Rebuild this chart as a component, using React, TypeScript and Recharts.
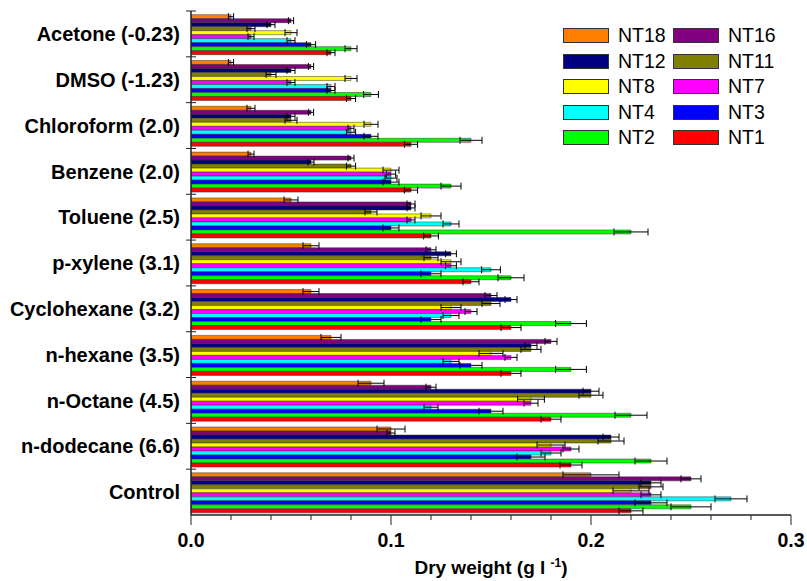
import { BarChart, Bar, XAxis, YAxis, ErrorBar } from 'recharts';

const categories = [
  'Acetone (-0.23)',
  'DMSO (-1.23)',
  'Chloroform (2.0)',
  'Benzene (2.0)',
  'Toluene (2.5)',
  'p-xylene (3.1)',
  'Cyclohexane (3.2)',
  'n-hexane (3.5)',
  'n-Octane (4.5)',
  'n-dodecane (6.6)',
  'Control',
];

const nt18 = [0.02, 0.02, 0.03, 0.03, 0.05, 0.06, 0.06, 0.07, 0.09, 0.1, 0.2];
const nt18Err = [0.0013, 0.0013, 0.002, 0.0015, 0.0035, 0.004, 0.004, 0.005, 0.0065, 0.007, 0.014];
const nt16 = [0.05, 0.06, 0.06, 0.08, 0.11, 0.12, 0.15, 0.18, 0.12, 0.1, 0.25];
const nt16Err = [0.0013, 0.0013, 0.0013, 0.0015, 0.002, 0.0025, 0.003, 0.003, 0.0025, 0.002, 0.005];
const nt12 = [0.04, 0.05, 0.05, 0.06, 0.11, 0.13, 0.16, 0.17, 0.2, 0.21, 0.23];
const nt12Err = [0.002, 0.002, 0.002, 0.0015, 0.002, 0.0027, 0.003, 0.003, 0.004, 0.004, 0.005];
const nt11 = [0.03, 0.04, 0.05, 0.08, 0.09, 0.12, 0.15, 0.17, 0.2, 0.21, 0.23];
const nt11Err = [0.002, 0.0025, 0.003, 0.0023, 0.003, 0.0035, 0.0045, 0.005, 0.006, 0.0065, 0.006];
const nt8 = [0.05, 0.08, 0.09, 0.1, 0.12, 0.13, 0.13, 0.15, 0.17, 0.18, 0.22];
const nt8Err = [0.003, 0.003, 0.0035, 0.004, 0.005, 0.005, 0.005, 0.006, 0.0067, 0.007, 0.009];
const nt7 = [0.03, 0.05, 0.08, 0.1, 0.11, 0.13, 0.14, 0.16, 0.17, 0.19, 0.23];
const nt7Err = [0.0015, 0.002, 0.0015, 0.0023, 0.002, 0.0027, 0.003, 0.003, 0.0035, 0.004, 0.005];
const nt4 = [0.05, 0.07, 0.08, 0.1, 0.13, 0.15, 0.13, 0.13, 0.12, 0.18, 0.27];
const nt4Err = [0.002, 0.002, 0.0023, 0.003, 0.004, 0.0047, 0.004, 0.004, 0.0035, 0.005, 0.008];
const nt3 = [0.06, 0.07, 0.09, 0.1, 0.1, 0.12, 0.12, 0.14, 0.15, 0.17, 0.23];
const nt3Err = [0.0023, 0.002, 0.0035, 0.004, 0.004, 0.005, 0.005, 0.0055, 0.006, 0.007, 0.008];
const nt2 = [0.08, 0.09, 0.14, 0.13, 0.22, 0.16, 0.19, 0.19, 0.22, 0.23, 0.25];
const nt2Err = [0.003, 0.0037, 0.0055, 0.005, 0.0085, 0.0065, 0.0077, 0.0077, 0.008, 0.008, 0.01];
const nt1 = [0.07, 0.08, 0.11, 0.11, 0.12, 0.14, 0.16, 0.16, 0.18, 0.19, 0.22];
const nt1Err = [0.002, 0.0023, 0.0033, 0.0033, 0.0037, 0.004, 0.005, 0.005, 0.005, 0.0055, 0.006];

const xTicks = [0, 0.02, 0.04, 0.06, 0.08, 0.1, 0.12, 0.14, 0.16, 0.18, 0.2, 0.22, 0.24, 0.26, 0.28, 0.3];
const xLabels = ['0.0', '0.1', '0.2', '0.3'];

const series = [
  { key: 'NT18', color: '#FF8000', values: nt18, errors: nt18Err },
  { key: 'NT16', color: '#800080', values: nt16, errors: nt16Err },
  { key: 'NT12', color: '#000080', values: nt12, errors: nt12Err },
  { key: 'NT11', color: '#808000', values: nt11, errors: nt11Err },
  { key: 'NT8', color: '#FFFF00', values: nt8, errors: nt8Err },
  { key: 'NT7', color: '#FF00FF', values: nt7, errors: nt7Err },
  { key: 'NT4', color: '#00FFFF', values: nt4, errors: nt4Err },
  { key: 'NT3', color: '#0000FF', values: nt3, errors: nt3Err },
  { key: 'NT2', color: '#00FF00', values: nt2, errors: nt2Err },
  { key: 'NT1', color: '#FF0000', values: nt1, errors: nt1Err },
];

const data = categories.map((name, i) => {
  const row: Record<string, string | number> = { name };
  series.forEach((s) => {
    row[s.key] = s.values[i];
    row[s.key + '_err'] = s.errors[i];
  });
  return row;
});

const W = 807;
const H = 581;
const M = { top: 11, right: 16, left: 0, bottom: 0 };
const Y_AXIS_W = 191;
const X_AXIS_H = 66;
const band = (H - M.top - X_AXIS_H) / categories.length;
const font = '"Liberation Sans", Arial, sans-serif';

const XTick = (props: any) => {
  const { x, y, payload } = props;
  const v = payload.value;
  const idx = Math.round(v * 10);
  const major = Math.abs(v * 10 - idx) < 1e-6;
  return (
    <g>
      <line x1={x} x2={x} y1={y} y2={y + (major ? 10 : 5)} stroke="#222" strokeWidth={1} />
      {major && (
        <text x={x} y={y + 32} textAnchor="middle" fontSize={19.5} fontWeight="bold" fill="#000" fontFamily={font}>
          {xLabels[idx]}
        </text>
      )}
    </g>
  );
};

const YTick = (props: any) => {
  const { x, y, payload } = props;
  return (
    <g>
      <line x1={x - 5} x2={x + 5} y1={y - band / 2} y2={y - band / 2} stroke="#222" strokeWidth={1} />
      <text x={x - 11} y={y} dy="0.36em" textAnchor="end" fontSize={20} fontWeight="bold" fill="#000" fontFamily={font}>
        {payload.value}
      </text>
    </g>
  );
};

const LegendBox = () => {
  const rows: (typeof series)[] = [];
  for (let i = 0; i < series.length; i += 2) rows.push(series.slice(i, i + 2));
  return (
    <div style={{ position: 'absolute', left: 563, top: 23, fontFamily: font, fontSize: 19.5, color: '#000' }}>
      {rows.map((r, ri) => (
        <div key={ri} style={{ display: 'flex', height: 25.5, alignItems: 'center' }}>
          {r.map((s) => (
            <div key={s.key} style={{ display: 'flex', alignItems: 'center', width: 110 }}>
              <div style={{ width: 44, height: 13, background: s.color, border: '1px solid #333', marginRight: 9 }} />
              <span>{s.key}</span>
            </div>
          ))}
        </div>
      ))}
    </div>
  );
};

export default function App() {
  return (
    <div style={{ position: 'absolute', left: 0, top: 0, width: W, height: H, background: '#fff' }}>
      <BarChart
        width={W}
        height={H}
        data={data}
        layout="vertical"
        margin={M}
        barCategoryGap="8%"
        barGap={0}
      >
        <XAxis
          type="number"
          domain={[0, 0.3]}
          ticks={xTicks}
          interval={0}
          height={X_AXIS_H}
          tickSize={0}
          tickMargin={0}
          tick={<XTick />}
          axisLine={{ stroke: '#222', strokeWidth: 1.5 }}
          allowDataOverflow
        />
        <XAxis
          xAxisId="top"
          orientation="top"
          type="number"
          domain={[0, 0.3]}
          height={0}
          tick={false}
          tickLine={false}
          axisLine={{ stroke: '#222', strokeWidth: 1.5 }}
        />
        <YAxis
          type="category"
          dataKey="name"
          width={Y_AXIS_W}
          tickSize={0}
          tickMargin={0}
          tick={<YTick />}
          interval={0}
          axisLine={{ stroke: '#222', strokeWidth: 1.5 }}
        />
        <YAxis
          yAxisId="right"
          orientation="right"
          type="category"
          dataKey="name"
          width={0}
          tick={false}
          tickLine={false}
          axisLine={{ stroke: '#222', strokeWidth: 1.5 }}
        />
        {series.map((s) => (
          <Bar
            key={s.key}
            dataKey={s.key}
            fill={s.color}
            stroke="#333"
            strokeWidth={0.5}
            isAnimationActive={false}
          >
            <ErrorBar dataKey={s.key + '_err'} direction="x" width={3.5} stroke="#000" strokeWidth={1} />
          </Bar>
        ))}
      </BarChart>
      <LegendBox />
      <div
        style={{
          position: 'absolute',
          left: 191,
          width: 600,
          top: 556,
          textAlign: 'center',
          fontFamily: font,
          fontSize: 19,
          fontWeight: 'bold',
          color: '#000',
        }}
      >
        Dry weight (g l <sup style={{ fontSize: 12 }}>-1</sup>)
      </div>
    </div>
  );
}
